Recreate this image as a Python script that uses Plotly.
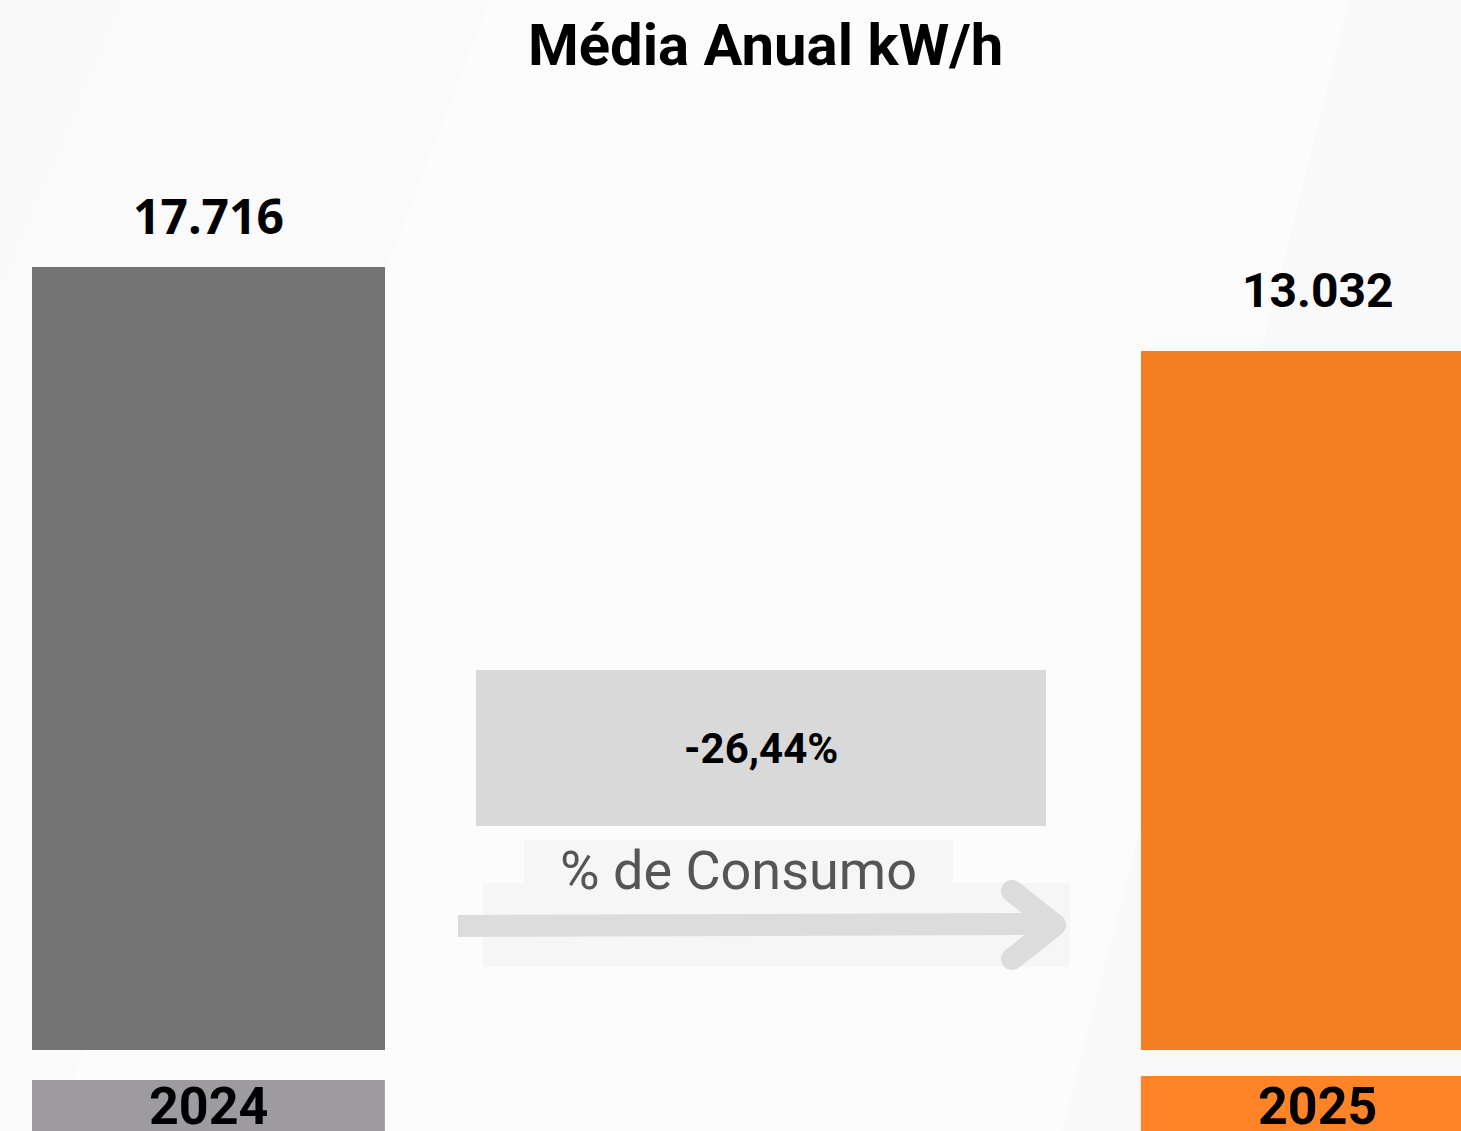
import plotly.graph_objects as go

# ---------------- data ----------------
YEARS = ["2024", "2025"]
VALUES = [17716, 13032]
VALUE_LABELS = ["17.716", "13.032"]
CHANGE_LABEL = "-26,44%"
CHANGE_CAPTION = "% de Consumo"
TITLE = "Média Anual kW/h"

# ---------------- style ----------------
W, H = 1461, 1131
BAR_COLORS = ["#737373", "#F37F22"]
YEAR_BOX_COLORS = ["#9E9BA0", "#FF8427"]
BAR_WIDTHS = [0.323, 0.293]
AXIS_FLOOR = -25946          # visual baseline of the bars
Y_RANGE = [-30463, 32605]
X_RANGE = [-0.1908, 1.1465]
BG = "#F9F9F9"


def px(x):
    return x / W


def py(y):
    return 1 - y / H


positions = list(range(len(YEARS)))

fig = go.Figure()
fig.add_trace(go.Bar(
    x=positions,
    y=[v - AXIS_FLOOR for v in VALUES],
    base=AXIS_FLOOR,
    width=BAR_WIDTHS,
    marker=dict(color=BAR_COLORS, line=dict(width=0)),
    hoverinfo="skip",
))

shapes = []
# subtle diagonal background bands
shapes.append(dict(type="path", xref="paper", yref="paper", layer="below",
                   path=f"M {px(123)},{py(0)} L {px(490)},{py(0)} L {px(490-0.386*H)},{py(H)} L {px(0)},{py(H)} L {px(0)},{py(290)} Z",
                   fillcolor="#FAFAFA", line=dict(width=0)))
shapes.append(dict(type="path", xref="paper", yref="paper", layer="below",
                   path=f"M {px(490)},{py(0)} L {px(1350)},{py(0)} L {px(1350-0.254*H)},{py(H)} L {px(490-0.386*H)},{py(H)} Z",
                   fillcolor="#FCFCFC", line=dict(width=0)))

# year label boxes
for i, (w, c) in enumerate(zip(BAR_WIDTHS, YEAR_BOX_COLORS)):
    top = 1080 if i == 0 else 1076
    shapes.append(dict(type="rect", xref="x", yref="paper",
                       x0=i - w / 2, x1=i + w / 2, y0=0, y1=py(top),
                       fillcolor=c, line=dict(width=0)))

# change box
shapes.append(dict(type="rect", xref="paper", yref="paper",
                   x0=px(476), x1=px(1046), y0=py(826), y1=py(670),
                   fillcolor="#D9D9D9", line=dict(width=0)))
# faint backdrops for caption and arrow
shapes.append(dict(type="rect", xref="paper", yref="paper", layer="below",
                   x0=px(483), x1=px(1070), y0=py(967), y1=py(883),
                   fillcolor="#F6F6F6", line=dict(width=0)))
shapes.append(dict(type="rect", xref="paper", yref="paper", layer="below",
                   x0=px(524), x1=px(953), y0=py(898), y1=py(840),
                   fillcolor="#F6F6F6", line=dict(width=0)))

# arrow
ARROW = "#DCDCDC"
AW = 22
shapes.append(dict(type="line", xref="paper", yref="paper",
                   x0=px(458), y0=py(926), x1=px(1050), y1=py(924),
                   line=dict(color=ARROW, width=AW)))
for (xa, ya, xb, yb) in [(1012, 891, 1055, 925), (1055, 925, 1012, 959)]:
    shapes.append(dict(type="line", xref="paper", yref="paper",
                       x0=px(xa), y0=py(ya), x1=px(xb), y1=py(yb),
                       line=dict(color=ARROW, width=AW)))
for (cx, cy) in [(1012, 891), (1055, 925), (1012, 959)]:
    r = AW / 2
    shapes.append(dict(type="circle", xref="paper", yref="paper",
                       x0=px(cx - r), x1=px(cx + r), y0=py(cy + r), y1=py(cy - r),
                       fillcolor=ARROW, line=dict(width=0)))

annotations = []
# title
annotations.append(dict(text=f"<b>{TITLE}</b>", xref="paper", yref="paper",
                        x=px(765), y=py(45), xanchor="center", yanchor="middle",
                        showarrow=False,
                        font=dict(family="Roboto", size=58, color="#000000")))
# value labels
VALUE_FONTS = ["Open Sans", "Roboto"]
VALUE_SHIFTS = [52, 61]
LABEL_XSHIFTS = [0, 17]
for i, (v, lab) in enumerate(zip(VALUES, VALUE_LABELS)):
    annotations.append(dict(text=f"<b>{lab}</b>", x=i, y=v, xref="x", yref="y",
                            xanchor="center", yanchor="middle",
                            yshift=VALUE_SHIFTS[i], xshift=LABEL_XSHIFTS[i],
                            showarrow=False,
                            font=dict(family=VALUE_FONTS[i], size=48, color="#000000")))
# year labels
for i, yr in enumerate(YEARS):
    annotations.append(dict(text=f"<b>{yr}</b>", x=i, y=py(1106), xref="x", yref="paper",
                            xanchor="center", yanchor="middle", showarrow=False,
                            xshift=LABEL_XSHIFTS[i],
                            font=dict(family="Roboto", size=52, color="#000000")))
# change label & caption
annotations.append(dict(text=f"<b>{CHANGE_LABEL}</b>", xref="paper", yref="paper",
                        x=px(761), y=py(748), xanchor="center", yanchor="middle",
                        showarrow=False,
                        font=dict(family="Roboto", size=42, color="#000000")))
annotations.append(dict(text=CHANGE_CAPTION, xref="paper", yref="paper",
                        x=px(738), y=py(871), xanchor="center", yanchor="middle",
                        showarrow=False,
                        font=dict(family="Roboto", size=54, color="#555555")))

fig.update_layout(
    width=W, height=H,
    margin=dict(l=0, r=0, t=0, b=0),
    paper_bgcolor=BG, plot_bgcolor="rgba(0,0,0,0)",
    showlegend=False,
    shapes=shapes,
    annotations=annotations,
    xaxis=dict(range=X_RANGE, visible=False, fixedrange=True),
    yaxis=dict(range=Y_RANGE, visible=False, fixedrange=True),
    bargap=0,
)

fig.write_html(
    "out.html",
    config={"displayModeBar": False},
    post_script="document.body.style.margin='0';document.body.style.overflow='hidden';",
)
